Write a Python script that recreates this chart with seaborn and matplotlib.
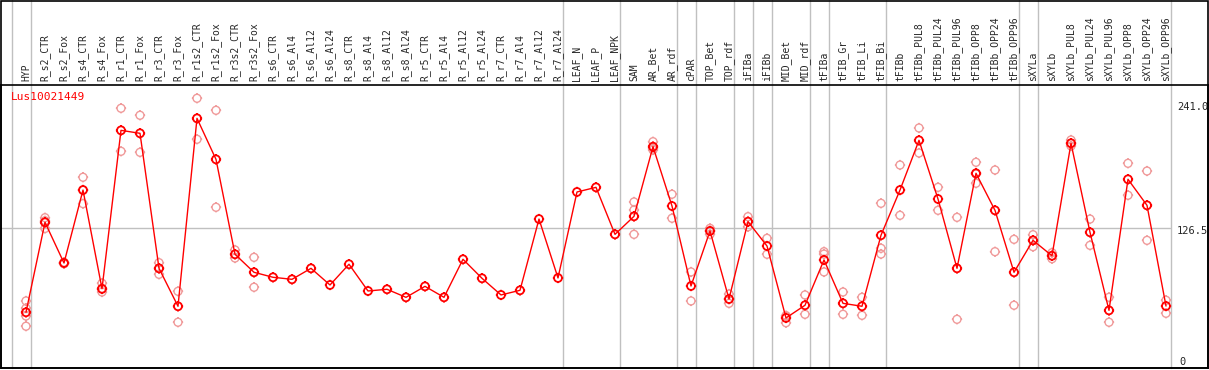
import numpy as np
import pandas as pd
import seaborn as sns
import matplotlib.pyplot as plt
from matplotlib.path import Path

# Sample names (columns of the chart)
samples = ["HYP", "R_s2_CTR", "R_s2_Fox", "R_s4_CTR", "R_s4_Fox", "R_r1_CTR", "R_r1_Fox",
           "R_r3_CTR", "R_r3_Fox", "R_r1s2_CTR", "R_r1s2_Fox", "R_r3s2_CTR", "R_r3s2_Fox",
           "R_s6_CTR", "R_s6_Al4", "R_s6_Al12", "R_s6_Al24", "R_s8_CTR", "R_s8_Al4",
           "R_s8_Al12", "R_s8_Al24", "R_r5_CTR", "R_r5_Al4", "R_r5_Al12", "R_r5_Al24",
           "R_r7_CTR", "R_r7_Al4", "R_r7_Al12", "R_r7_Al24", "LEAF_N", "LEAF_P", "LEAF_NPK",
           "SAM", "AR_Bet", "AR_rdf", "cPAR", "TOP_Bet", "TOP_rdf", "iFIBa", "iFIBb",
           "MID_Bet", "MID_rdf", "tFIBa", "tFIB_Gr", "tFIB_Li", "tFIB_Bi", "tFIBb",
           "tFIBb_PUL8", "tFIBb_PUL24", "tFIBb_PUL96", "tFIBb_OPP8", "tFIBb_OPP24",
           "tFIBb_OPP96", "sXYLa", "sXYLb", "sXYLb_PUL8", "sXYLb_PUL24", "sXYLb_PUL96",
           "sXYLb_OPP8", "sXYLb_OPP24", "sXYLb_OPP96"]

# Mean expression per sample
means = [52.1, 131.5, 95.6, 160.0, 72.9, 212.7, 210.1, 90.9, 57.4, 223.3, 187.1, 103.3, 87.4,
         83.0, 81.2, 90.9, 76.2, 94.5, 70.9, 72.4, 65.3, 75.0, 65.3, 98.9, 82.1,
         67.4, 71.5, 134.4, 82.4, 158.3, 162.4, 120.9,
         136.8, 198.3, 145.9, 75.3, 123.9, 63.8, 132.1, 110.6,
         47.1, 58.3, 98.3, 60.0, 57.4, 120.1, 160.0,
         203.9, 152.1, 90.9, 174.8, 142.1, 87.4, 115.6, 102.0,
         201.3, 122.7, 53.8, 169.5, 146.5, 57.6]

# Individual replicates
replicates = [[62.1, 55.7, 48.8, 39.8], [135.6, 132.9, 126.1], [96.2, 95.6, 95.0],
              [171.3, 160.0, 148.0], [77.7, 72.4, 70.0], [232.2, 194.2], [226.0, 193.3],
              [95.9, 90.9, 85.6], [70.6, 43.3], [241.0, 204.8], [230.4, 144.8],
              [107.1, 100.0], [100.6, 74.2],
              [], [], [], [], [], [], [], [], [], [], [], [], [], [], [], [], [], [], [],
              [149.5, 142.4, 120.9], [202.7, 196.9, 195.4], [156.3, 135.1], [87.7, 62.1],
              [126.2, 123.9, 120.9], [68.2, 63.8, 60.0], [136.5, 127.6], [117.4, 103.3],
              [49.1, 48.8, 42.9], [67.4, 50.3], [105.6, 103.5, 87.7], [70.0, 50.3],
              [65.3, 49.4], [148.3, 108.6, 103.5], [182.1, 137.7],
              [214.8, 192.7], [162.4, 142.1], [135.9, 45.9], [184.5, 174.2, 166.0],
              [177.7, 105.6], [116.5, 58.3], [120.6, 115.6, 110.0], [104.7, 102.0, 99.4],
              [204.2, 201.3, 198.9], [134.4, 111.2], [65.3, 43.3], [183.6, 155.4],
              [176.8, 115.6], [62.7, 51.2]]

# Group separators (drawn just after these sample indices)
separators = [-1, 0, 28, 31, 34, 35, 37, 38, 39, 41, 42, 45, 52, 53, 60]

gene = "Lus10021449"
max_label, mid_label = 241.0, 126.5

# Long form tables
x = np.arange(len(samples))
df_mean = pd.DataFrame({"x": x, "value": means})
rep_rows = [(i, v) for i, vals in enumerate(replicates) for v in vals]
df_rep = pd.DataFrame(rep_rows, columns=["x", "value"])

# Circle marker with four small ticks
circle = Path.unit_circle()
ticks = Path([(0, 1), (0, 1.3), (0, -1), (0, -1.3), (1, 0), (1.3, 0), (-1, 0), (-1.3, 0)],
             [Path.MOVETO, Path.LINETO] * 4)
marker = Path.make_compound_path(circle, ticks)

sns.set_style("white")
plt.rcParams['font.family'] = ['DejaVu Sans Mono']

W, H = 1209, 370
fig = plt.figure(figsize=(W / 100, H / 100), dpi=100)
ax_top, ax_bot = 85, 368
ax = fig.add_axes([1 / W, (H - ax_bot) / H, 1207 / W, (ax_bot - ax_top) / H])

# pixel mapping
px_per_unit = 1.1328
y0_pix = 371.3
ax.set_ylim((y0_pix - ax_bot) / px_per_unit, (y0_pix - ax_top) / px_per_unit)
ax.set_xlim((1 - 26) / 19, (1208 - 26) / 19)

# grid
ax.axhline(mid_label, xmax=(1170 - 1) / 1207, color="#c0c0c0", lw=1, zorder=0)
for s in separators:
    ax.axvline(s + 0.24, ymin=0, ymax=ax_bot / (ax_bot - ax_top), color="#c0c0c0",
               lw=1, zorder=0, clip_on=False)

sns.scatterplot(data=df_rep, x="x", y="value", ax=ax, marker=marker, s=55,
                facecolor="none", edgecolor="#f09a9a", linewidth=1.0, zorder=2, legend=False)
sns.lineplot(data=df_mean, x="x", y="value", ax=ax, color="red", lw=1.0, zorder=3)
sns.scatterplot(data=df_mean, x="x", y="value", ax=ax, marker=marker, s=55,
                facecolor="none", edgecolor="red", linewidth=1.3, zorder=4, legend=False)

# labels on top
ax.xaxis.tick_top()
ax.set_xticks(x)
ax.set_xticklabels(samples, rotation=90, fontsize=7, va="bottom")
ax.tick_params(axis="x", length=0, pad=3)
ax.set_yticks([])
ax.set_xlabel("")
ax.set_ylabel("")
for sp in ax.spines.values():
    sp.set_color("black")
    sp.set_linewidth(1.2)

ax.text(10 / 1207, 1 - 12 / (ax_bot - ax_top), gene, transform=ax.transAxes, color="red",
        fontsize=8, va="center", ha="left")
ax.annotate(f"{max_label:.1f}", xy=(1177, 241), xycoords=("figure pixels", "data"),
            xytext=(0, -9), textcoords="offset pixels", va="center", ha="left", fontsize=7.5)
ax.annotate(f"{mid_label:.1f}", xy=(1177, mid_label), xycoords=("figure pixels", "data"),
            xytext=(0, -3), textcoords="offset pixels", va="center", ha="left", fontsize=7.5)
ax.annotate("0", xy=(1179, 0), xycoords=("figure pixels", "data"),
            xytext=(0, 9), textcoords="offset pixels", va="center", ha="left", fontsize=7.5)

# outer frame around the label band
fig.add_artist(plt.Rectangle((1 / W, (H - ax_bot) / H), 1207 / W, (ax_bot - 0.5) / H,
                             transform=fig.transFigure, fill=False, ec="black", lw=1.2))

fig.savefig("out.png", dpi=100)
